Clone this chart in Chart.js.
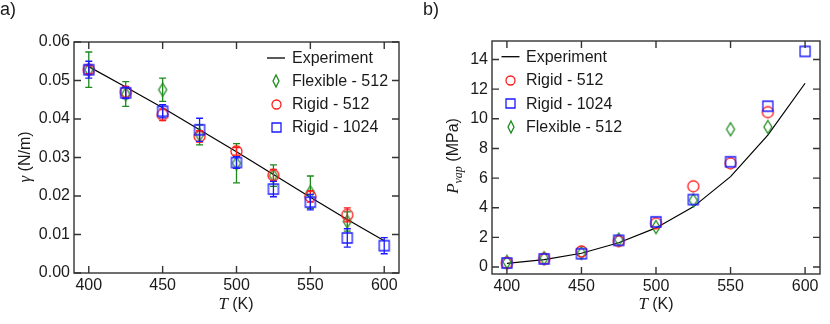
<!DOCTYPE html>
<html>
<head>
<meta charset="utf-8">
<script src="https://cdn.jsdelivr.net/npm/chart.js@4.4.0/dist/chart.umd.min.js"></script>
<style>
  body { margin: 0; background: #fff; }
  #wrap { position: relative; width: 830px; height: 324px; }
  .panel { position: absolute; top: 0; height: 324px; }
</style>
</head>
<body>
<div id="wrap">
  <div class="panel" style="left:0;width:410px"><canvas id="gammaChart" width="410" height="324"></canvas></div>
  <div class="panel" style="left:410px;width:420px"><canvas id="pvapChart" width="420" height="324"></canvas></div>
</div>
<script>
const temps = [400, 425, 450, 475, 500, 525, 550, 575, 600];
const simTemps = [400, 425, 450, 475, 500, 525, 550, 575];
const xTicks = [400, 450, 500, 550, 600];

// a) surface tension, N/m
const gammaExp = [0.0536, 0.0483, 0.0429, 0.0372, 0.0315, 0.0256, 0.0197, 0.0139, 0.0084];
const gammaFlex512 = [0.0528, 0.0465, 0.0476, 0.0359, 0.0285, 0.0253, 0.0210, 0.0134];
const gammaFlex512Err = [0.0046, 0.0032, 0.0030, 0.0026, 0.0051, 0.0028, 0.0042, 0.0025];
const gammaRigid512 = [0.0528, 0.0470, 0.0411, 0.0355, 0.0316, 0.0254, 0.0199, 0.0151];
const gammaRigid512Err = [0.0010, 0.0015, 0.0015, 0.0015, 0.0010, 0.0015, 0.0015, 0.0018];
const gammaRigid1024 = [0.0528, 0.0468, 0.0420, 0.0372, 0.0287, 0.0218, 0.0184, 0.0091, 0.0071];
const gammaRigid1024Err = [0.0022, 0.0015, 0.0017, 0.0030, 0.0015, 0.0020, 0.0020, 0.0024, 0.0021];
const gammaTicks = [0, 0.01, 0.02, 0.03, 0.04, 0.05, 0.06];

// b) vapour pressure, MPa
const pvapExp = [0.25, 0.50, 0.93, 1.64, 2.64, 4.06, 6.1, 8.9, 12.4];
const pvapRigid512 = [0.27, 0.55, 1.05, 1.75, 2.95, 5.45, 7.0, 10.45];
const pvapRigid1024 = [0.27, 0.55, 0.90, 1.80, 3.05, 4.55, 7.1, 10.85, 14.55];
const pvapFlex512 = [0.35, 0.60, 0.95, 1.85, 2.70, 4.50, 9.3, 9.45];
const pvapTicks = [0, 2, 4, 6, 8, 10, 12, 14];

const RED = '#ff1a1a', BLUE = '#1a1aff', GREEN = '#1c8a1c';
const SANS = 'Liberation Sans';

Chart.defaults.font.family = SANS;
Chart.defaults.font.size = 16;
Chart.defaults.color = '#1a1a1a';

function makeMarker(shape, color, w, h) {
  const c = document.createElement('canvas');
  c.width = w + 4; c.height = h + 4;
  const g = c.getContext('2d');
  const cx = c.width / 2, cy = c.height / 2;
  g.strokeStyle = color;
  g.lineWidth = 1.3;
  g.beginPath();
  if (shape === 'circle') {
    g.arc(cx, cy, w / 2, 0, Math.PI * 2);
  } else if (shape === 'square') {
    g.rect(cx - w / 2, cy - h / 2, w, h);
  } else {
    g.moveTo(cx, cy - h / 2);
    g.lineTo(cx + w / 2, cy);
    g.lineTo(cx, cy + h / 2);
    g.lineTo(cx - w / 2, cy);
    g.closePath();
  }
  g.stroke();
  return c;
}

const markers = {
  circle: makeMarker('circle', RED, 11, 11),
  square: makeMarker('square', BLUE, 10, 10),
  diamond: makeMarker('diamond', GREEN, 8, 13)
};
const legendMarkers = {
  circle: makeMarker('circle', RED, 9, 9),
  square: makeMarker('square', BLUE, 9, 9),
  diamond: makeMarker('diamond', GREEN, 6, 12)
};

const toXY = (xs, ys) => xs.map((t, i) => ({x: t, y: ys[i]}));

function expSet(values) {
  return {
    label: 'Experiment', data: toXY(temps, values), showLine: true,
    borderColor: '#000', borderWidth: 1.2, pointRadius: 0, order: 3, legendLine: true
  };
}
function simSet(label, xs, values, kind, color, order, errors) {
  return {
    label: label, data: toXY(xs, values), pointStyle: markers[kind], pointRadius: 5,
    borderColor: color, order: order, errors: errors, legendMarker: legendMarkers[kind]
  };
}

const errorBars = {
  id: 'errorBars',
  beforeDatasetDraw(chart, args) {
    const ds = chart.data.datasets[args.index];
    if (!ds.errors) return;
    const ys = chart.scales.y;
    const ctx = chart.ctx;
    ctx.save();
    ctx.strokeStyle = ds.borderColor;
    ctx.lineWidth = 1.3;
    args.meta.data.forEach((pt, i) => {
      const v = ds.data[i].y, e = ds.errors[i];
      const top = ys.getPixelForValue(v + e), bot = ys.getPixelForValue(v - e);
      ctx.beginPath();
      ctx.moveTo(pt.x, top); ctx.lineTo(pt.x, bot);
      ctx.moveTo(pt.x - 3.5, top); ctx.lineTo(pt.x + 3.5, top);
      ctx.moveTo(pt.x - 3.5, bot); ctx.lineTo(pt.x + 3.5, bot);
      ctx.stroke();
    });
    ctx.restore();
  }
};

const frame = {
  id: 'frame',
  afterDatasetsDraw(chart) {
    const {left, right, top, bottom} = chart.chartArea;
    const ctx = chart.ctx;
    ctx.save();
    ctx.strokeStyle = '#333';
    ctx.lineWidth = 1.4;
    ctx.strokeRect(left, top, right - left, bottom - top);
    ctx.beginPath();
    chart.scales.x.ticks.forEach(t => {
      const px = chart.scales.x.getPixelForValue(t.value);
      ctx.moveTo(px, bottom); ctx.lineTo(px, bottom - 7);
      ctx.moveTo(px, top); ctx.lineTo(px, top + 7);
    });
    chart.scales.y.ticks.forEach(t => {
      const py = chart.scales.y.getPixelForValue(t.value);
      ctx.moveTo(left, py); ctx.lineTo(left + 7, py);
      ctx.moveTo(right, py); ctx.lineTo(right - 7, py);
    });
    ctx.stroke();
    ctx.restore();
  }
};

function drawParts(ctx, parts, cx, cy, angle) {
  ctx.save();
  ctx.translate(cx, cy);
  ctx.rotate(angle);
  ctx.textBaseline = 'alphabetic';
  ctx.fillStyle = '#1a1a1a';
  let total = 0;
  parts.forEach(p => { ctx.font = p.font; p.w = ctx.measureText(p.text).width; total += p.w; });
  let x = -total / 2;
  parts.forEach(p => { ctx.font = p.font; ctx.fillText(p.text, x, p.dy || 0); x += p.w; });
  ctx.restore();
}

const decor = {
  id: 'decor',
  afterDraw(chart, args, opts) {
    const ctx = chart.ctx;
    ctx.save();
    ctx.fillStyle = '#1a1a1a';
    ctx.font = '18px ' + SANS;
    ctx.textBaseline = 'alphabetic';
    ctx.fillText(opts.panel, opts.panelX, 15);

    drawParts(ctx, [
      {text: 'T', font: 'italic 17px "Liberation Serif"'},
      {text: ' (K)', font: '16px ' + SANS}
    ], opts.xTitleX, 309, 0);
    drawParts(ctx, opts.yTitle, opts.yTitleX, opts.yTitleY, -Math.PI / 2);

    const lg = opts.legend;
    ctx.font = '16px ' + SANS;
    ctx.textBaseline = 'middle';
    chart.data.datasets.forEach((ds, i) => {
      const y = lg.y + i * lg.dy;
      if (ds.legendLine) {
        ctx.strokeStyle = '#000';
        ctx.lineWidth = 1.3;
        ctx.beginPath();
        ctx.moveTo(lg.symX - 9, y); ctx.lineTo(lg.symX + 9, y);
        ctx.stroke();
      } else {
        const m = ds.legendMarker;
        ctx.drawImage(m, Math.round(lg.symX - m.width / 2), Math.round(y - m.height / 2));
      }
      ctx.fillStyle = '#1a1a1a';
      ctx.fillText(ds.label, lg.textX, y + 1);
    });
    ctx.restore();
  }
};

function makeOptions(yMin, yMax, yTicks, yFmt, yWidth, xHeight, pad, decorOpts) {
  return {
    responsive: false,
    animation: false,
    events: [],
    layout: {padding: pad},
    scales: {
      x: {
        type: 'linear', min: 390, max: 610,
        grid: {display: false, drawTicks: false}, border: {display: false},
        ticks: {padding: 3},
        afterBuildTicks: s => { s.ticks = xTicks.map(v => ({value: v})); },
        afterFit: s => { s.height = xHeight; }
      },
      y: {
        min: yMin, max: yMax,
        grid: {display: false, drawTicks: false}, border: {display: false},
        ticks: {padding: 4, callback: yFmt},
        afterBuildTicks: s => { s.ticks = yTicks.map(v => ({value: v})); },
        afterFit: s => { s.width = yWidth; }
      }
    },
    plugins: {
      legend: {display: false},
      tooltip: {enabled: false},
      decor: decorOpts
    }
  };
}

new Chart(document.getElementById('gammaChart').getContext('2d'), {
  type: 'scatter',
  data: {
    datasets: [
      expSet(gammaExp),
      simSet('Flexible - 512', simTemps, gammaFlex512, 'diamond', GREEN, 2, gammaFlex512Err),
      simSet('Rigid - 512', simTemps, gammaRigid512, 'circle', RED, 1, gammaRigid512Err),
      simSet('Rigid - 1024', temps, gammaRigid1024, 'square', BLUE, 0, gammaRigid1024Err)
    ]
  },
  options: makeOptions(0, 0.06, gammaTicks, v => v.toFixed(2), 74, 51,
    {left: 0, top: 42, right: 11, bottom: 0},
    {
      panel: 'a)', panelX: 0, xTitleX: 236,
      yTitle: [
        {text: 'γ', font: 'italic 17px "Liberation Serif"'},
        {text: ' (N/m)', font: '16px ' + SANS}
      ],
      yTitleX: 30, yTitleY: 157,
      legend: {symX: 276, textX: 292, y: 58, dy: 23}
    }),
  plugins: [errorBars, frame, decor]
});

new Chart(document.getElementById('pvapChart').getContext('2d'), {
  type: 'scatter',
  data: {
    datasets: [
      expSet(pvapExp),
      simSet('Rigid - 512', simTemps, pvapRigid512, 'circle', RED, 1),
      simSet('Rigid - 1024', temps, pvapRigid1024, 'square', BLUE, 0),
      simSet('Flexible - 512', simTemps, pvapFlex512, 'diamond', GREEN, 2)
    ]
  },
  options: makeOptions(-0.47, 15.25, pvapTicks, v => v, 82, 50,
    {left: 0, top: 41, right: 10, bottom: 0},
    {
      panel: 'b)', panelX: 13, xTitleX: 246,
      yTitle: [
        {text: 'P', font: 'italic 17px "Liberation Serif"'},
        {text: 'vap', font: 'italic 12px "Liberation Serif"', dy: 4},
        {text: ' (MPa)', font: '16px ' + SANS}
      ],
      yTitleX: 48, yTitleY: 156,
      legend: {symX: 100.5, textX: 116, y: 56.7, dy: 23.3}
    }),
  plugins: [errorBars, frame, decor]
});
</script>
</body>
</html>
